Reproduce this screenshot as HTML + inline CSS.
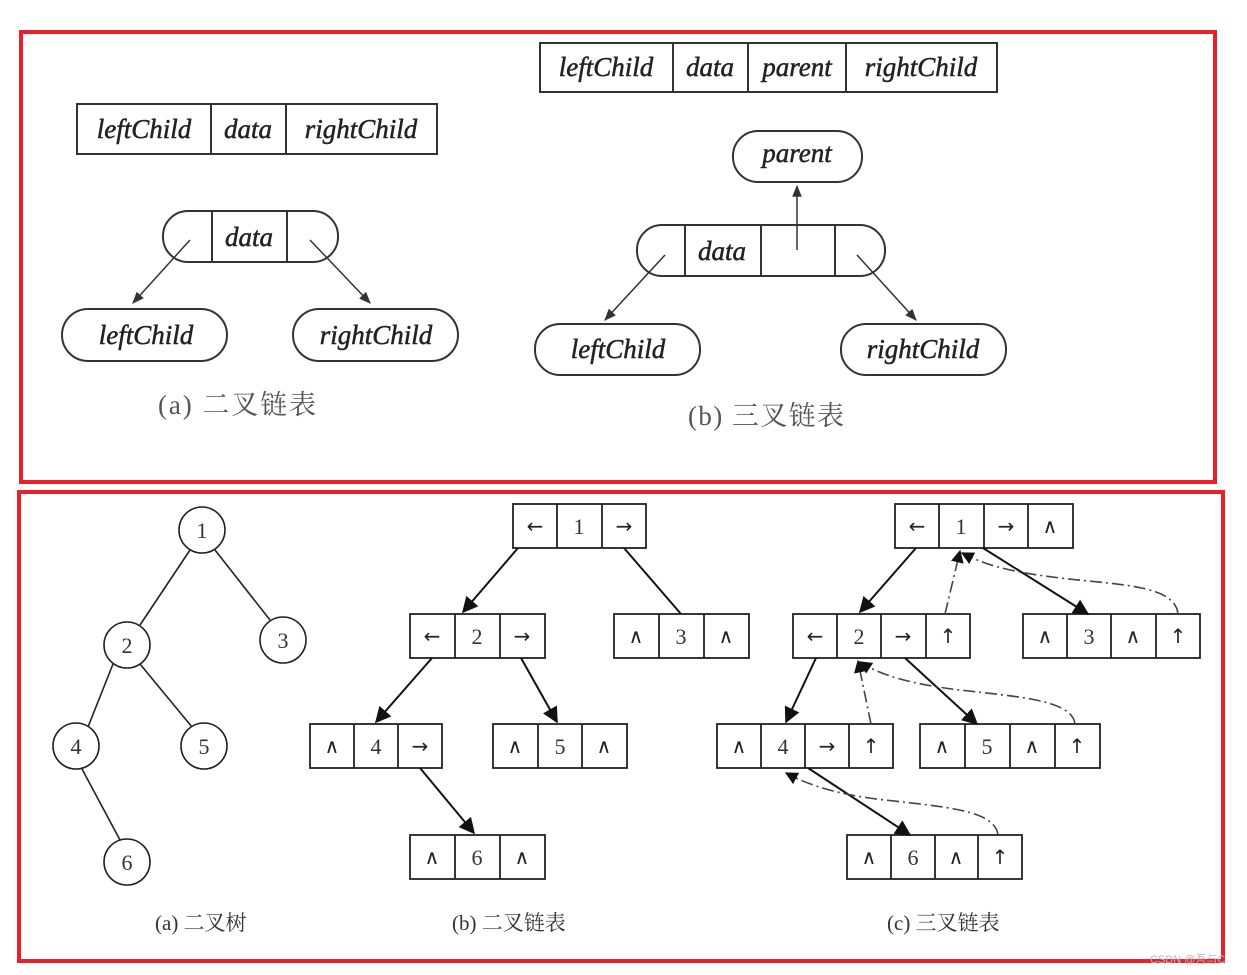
<!DOCTYPE html>
<html><head><meta charset="utf-8"><style>
html,body{margin:0;padding:0;background:#fff;}
svg{display:block}
.it{font-family:"Liberation Serif",serif;font-style:italic;font-size:27px;fill:#222;stroke:#222;stroke-width:0.5}
.cap{font-family:"Liberation Serif","Noto Serif CJK SC",serif;font-size:27px;fill:#555}
.cap2{font-family:"Liberation Serif","Noto Serif CJK SC",serif;font-size:21px;fill:#333}
.n{font-family:"Liberation Serif",serif;font-size:22px;fill:#333}
.s{font-family:"DejaVu Sans",sans-serif;font-size:20px;fill:#222}
</style></head><body>
<svg width="1247" height="975" viewBox="0 0 1247 975" xmlns="http://www.w3.org/2000/svg">
<defs>
<marker id="a" viewBox="0 0 10 10" refX="9" refY="5" markerWidth="8" markerHeight="8" orient="auto-start-reverse"><path d="M0,1 L10,5 L0,9 z" fill="#333"/></marker>
<marker id="b" viewBox="0 0 10 10" refX="9" refY="5" markerWidth="8" markerHeight="8" orient="auto-start-reverse"><path d="M0,0 L10,5 L0,10 z" fill="#111"/></marker>
</defs>
<rect x="21" y="32" width="1194" height="450" fill="none" stroke="#e8202a" stroke-width="4"/>
<rect x="19" y="492" width="1204" height="469" fill="none" stroke="#e8202a" stroke-width="4"/>

<g stroke="#333" stroke-width="2" fill="none">
<rect x="77" y="104" width="360" height="50"/><line x1="211" y1="104" x2="211" y2="154"/><line x1="286" y1="104" x2="286" y2="154"/>
<rect x="163" y="211" width="175" height="51" rx="25"/><line x1="212" y1="211" x2="212" y2="262"/><line x1="287" y1="211" x2="287" y2="262"/>
<rect x="62" y="309" width="165" height="52" rx="26"/><rect x="293" y="309" width="165" height="52" rx="26"/>
<line x1="190" y1="240" x2="133" y2="303" stroke-width="1.5" marker-end="url(#a)"/>
<line x1="310" y1="240" x2="370" y2="303" stroke-width="1.5" marker-end="url(#a)"/>
<rect x="540" y="43" width="457" height="49"/><line x1="673" y1="43" x2="673" y2="92"/><line x1="748" y1="43" x2="748" y2="92"/><line x1="846" y1="43" x2="846" y2="92"/>
<rect x="733" y="131" width="129" height="51" rx="25"/>
<rect x="637" y="225" width="248" height="51" rx="25"/><line x1="685" y1="225" x2="685" y2="276"/><line x1="761" y1="225" x2="761" y2="276"/><line x1="835" y1="225" x2="835" y2="276"/>
<line x1="797" y1="250" x2="797" y2="186" stroke-width="1.5" marker-end="url(#a)"/>
<rect x="535" y="324" width="165" height="51" rx="25"/><rect x="841" y="324" width="165" height="51" rx="25"/>
<line x1="665" y1="255" x2="605" y2="320" stroke-width="1.5" marker-end="url(#a)"/>
<line x1="857" y1="255" x2="916" y2="320" stroke-width="1.5" marker-end="url(#a)"/>
</g>
<text class="it" x="144" y="138" text-anchor="middle">leftChild</text>
<text class="it" x="248" y="138" text-anchor="middle">data</text>
<text class="it" x="361" y="138" text-anchor="middle">rightChild</text>
<text class="it" x="249" y="246" text-anchor="middle">data</text>
<text class="it" x="146" y="344" text-anchor="middle">leftChild</text>
<text class="it" x="376" y="344" text-anchor="middle">rightChild</text>
<text class="cap" x="158" y="414" textLength="158">(a) 二叉链表</text>
<text class="it" x="606" y="76" text-anchor="middle">leftChild</text>
<text class="it" x="710" y="76" text-anchor="middle">data</text>
<text class="it" x="797" y="76" text-anchor="middle">parent</text>
<text class="it" x="921" y="76" text-anchor="middle">rightChild</text>
<text class="it" x="797" y="162" text-anchor="middle">parent</text>
<text class="it" x="722" y="260" text-anchor="middle">data</text>
<text class="it" x="618" y="358" text-anchor="middle">leftChild</text>
<text class="it" x="923" y="358" text-anchor="middle">rightChild</text>
<text class="cap" x="688" y="425" textLength="156">(b) 三叉链表</text>

<!-- tree -->
<g stroke="#222" stroke-width="1.6" fill="none">
<line x1="190" y1="550" x2="140" y2="625"/><line x1="215" y1="550" x2="270" y2="620"/>
<line x1="113" y1="664" x2="88" y2="727"/><line x1="140" y1="664" x2="192" y2="727"/>
<line x1="82" y1="769" x2="120" y2="840"/>
<circle cx="202" cy="530" r="23" fill="#fff"/><circle cx="127" cy="645" r="23" fill="#fff"/><circle cx="283" cy="640" r="23" fill="#fff"/>
<circle cx="76" cy="746" r="23" fill="#fff"/><circle cx="204" cy="746" r="23" fill="#fff"/><circle cx="127" cy="862" r="23" fill="#fff"/>
</g>
<g class="n" text-anchor="middle">
<text x="202" y="538">1</text><text x="127" y="653">2</text><text x="283" y="648">3</text><text x="76" y="754">4</text><text x="204" y="754">5</text><text x="127" y="870">6</text>
</g>
<text class="cap2" x="155" y="930">(a) 二叉树</text>
<text class="cap2" x="452" y="930">(b) 二叉链表</text>
<text class="cap2" x="887" y="930">(c) 三叉链表</text>

<!-- nodes -->
<g stroke="#222" stroke-width="1.8" fill="none">
<rect x="513" y="504" width="133" height="44"/><line x1="557" y1="504" x2="557" y2="548"/><line x1="602" y1="504" x2="602" y2="548"/>
<rect x="410" y="614" width="135" height="44"/><line x1="455" y1="614" x2="455" y2="658"/><line x1="500" y1="614" x2="500" y2="658"/>
<rect x="614" y="614" width="135" height="44"/><line x1="659" y1="614" x2="659" y2="658"/><line x1="704" y1="614" x2="704" y2="658"/>
<rect x="310" y="724" width="132" height="44"/><line x1="354" y1="724" x2="354" y2="768"/><line x1="398" y1="724" x2="398" y2="768"/>
<rect x="493" y="724" width="134" height="44"/><line x1="538" y1="724" x2="538" y2="768"/><line x1="582" y1="724" x2="582" y2="768"/>
<rect x="410" y="835" width="135" height="44"/><line x1="455" y1="835" x2="455" y2="879"/><line x1="500" y1="835" x2="500" y2="879"/>
<rect x="895" y="504" width="178" height="44"/><line x1="939" y1="504" x2="939" y2="548"/><line x1="984" y1="504" x2="984" y2="548"/><line x1="1028" y1="504" x2="1028" y2="548"/>
<rect x="793" y="614" width="177" height="44"/><line x1="837" y1="614" x2="837" y2="658"/><line x1="881" y1="614" x2="881" y2="658"/><line x1="926" y1="614" x2="926" y2="658"/>
<rect x="1023" y="614" width="177" height="44"/><line x1="1067" y1="614" x2="1067" y2="658"/><line x1="1111" y1="614" x2="1111" y2="658"/><line x1="1156" y1="614" x2="1156" y2="658"/>
<rect x="717" y="724" width="176" height="44"/><line x1="761" y1="724" x2="761" y2="768"/><line x1="805" y1="724" x2="805" y2="768"/><line x1="849" y1="724" x2="849" y2="768"/>
<rect x="920" y="724" width="180" height="44"/><line x1="965" y1="724" x2="965" y2="768"/><line x1="1010" y1="724" x2="1010" y2="768"/><line x1="1055" y1="724" x2="1055" y2="768"/>
<rect x="847" y="835" width="175" height="44"/><line x1="891" y1="835" x2="891" y2="879"/><line x1="935" y1="835" x2="935" y2="879"/><line x1="978" y1="835" x2="978" y2="879"/>
</g>
<g class="s" text-anchor="middle">
<text x="535" y="533">←</text><text x="579" y="534" class="n">1</text><text x="624" y="533">→</text>
<text x="432" y="643">←</text><text x="477" y="644" class="n">2</text><text x="522" y="643">→</text>
<text x="636" y="643">∧</text><text x="681" y="644" class="n">3</text><text x="726" y="643">∧</text>
<text x="332" y="753">∧</text><text x="376" y="754" class="n">4</text><text x="420" y="753">→</text>
<text x="515" y="753">∧</text><text x="560" y="754" class="n">5</text><text x="604" y="753">∧</text>
<text x="432" y="864">∧</text><text x="477" y="865" class="n">6</text><text x="522" y="864">∧</text>
<text x="917" y="533">←</text><text x="961" y="534" class="n">1</text><text x="1006" y="533">→</text><text x="1050" y="533">∧</text>
<text x="815" y="643">←</text><text x="859" y="644" class="n">2</text><text x="903" y="643">→</text><text x="948" y="643">↑</text>
<text x="1045" y="643">∧</text><text x="1089" y="644" class="n">3</text><text x="1133" y="643">∧</text><text x="1178" y="643">↑</text>
<text x="739" y="753">∧</text><text x="783" y="754" class="n">4</text><text x="827" y="753">→</text><text x="871" y="753">↑</text>
<text x="942" y="753">∧</text><text x="987" y="754" class="n">5</text><text x="1032" y="753">∧</text><text x="1077" y="753">↑</text>
<text x="869" y="864">∧</text><text x="913" y="865" class="n">6</text><text x="956" y="864">∧</text><text x="1000" y="864">↑</text>
</g>
<g stroke="#111" stroke-width="2" fill="none">
<line x1="518" y1="548" x2="463" y2="612" marker-end="url(#b)"/>
<line x1="624" y1="548" x2="681" y2="614"/>
<line x1="432" y1="658" x2="376" y2="722" marker-end="url(#b)"/>
<line x1="521" y1="658" x2="557" y2="722" marker-end="url(#b)"/>
<line x1="420" y1="768" x2="474" y2="833" marker-end="url(#b)"/>
<line x1="916" y1="548" x2="860" y2="612" marker-end="url(#b)"/>
<line x1="983" y1="548" x2="1088" y2="614" marker-end="url(#b)"/>
<line x1="816" y1="658" x2="786" y2="722" marker-end="url(#b)"/>
<line x1="905" y1="658" x2="977" y2="724" marker-end="url(#b)"/>
<line x1="808" y1="768" x2="910" y2="835" marker-end="url(#b)"/>
</g>
<g stroke="#444" stroke-width="1.6" fill="none" stroke-dasharray="12,4,2,4">
<path d="M945,614 L960,551" marker-end="url(#b)"/>
<path d="M1178,614 C1175,585 1120,585 1060,578 C1010,572 985,565 962,553" marker-end="url(#b)"/>
<path d="M871,724 L858,661" marker-end="url(#b)"/>
<path d="M1075,724 C1072,700 1020,697 960,690 C910,684 880,675 860,662" marker-end="url(#b)"/>
<path d="M998,835 C995,810 945,807 885,800 C840,795 810,786 786,773" marker-end="url(#b)"/>
</g>
<text x="1150" y="963" font-family="Liberation Sans,Noto Sans CJK SC,sans-serif" font-size="11" fill="#bbb">CSDN @吾与C</text>
</svg>
</body></html>
